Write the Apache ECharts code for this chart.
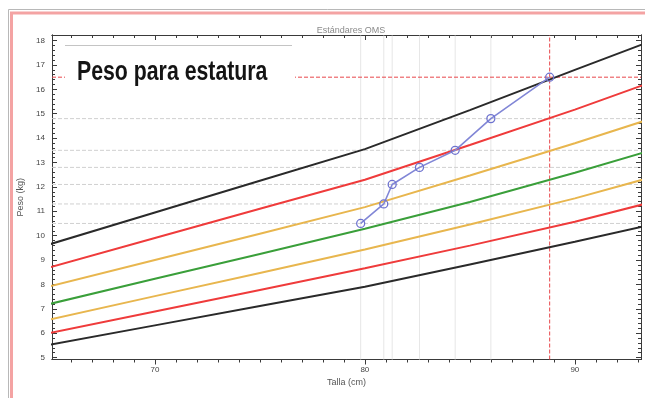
<!DOCTYPE html>
<html>
<head>
<meta charset="utf-8">
<script src="https://cdn.jsdelivr.net/npm/echarts@6/dist/echarts.min.js"></script>
<style>
  html, body { margin: 0; padding: 0; background: #fff; }
  #chart { width: 645px; height: 398px; }
</style>
</head>
<body>
<div id="chart"></div>
<script>
// Curvas de referencia OMS: peso para estatura (niñas), desvíos estándar
const tallaCm = [65, 70, 75, 80, 85, 90, 93.5];
const sdNeg3 = [5.53, 6.32, 7.11, 7.90, 8.82, 9.75, 10.42];
const sdNeg2 = [6.01, 6.89, 7.77, 8.66, 9.59, 10.57, 11.34];
const sdNeg1 = [6.56, 7.52, 8.47, 9.43, 10.46, 11.53, 12.36];
const sdMed  = [7.20, 8.23, 9.25, 10.28, 11.38, 12.58, 13.47];
const sdPos1 = [7.92, 9.00, 10.08, 11.17, 12.47, 13.79, 14.76];
const sdPos2 = [8.70, 9.90, 11.10, 12.29, 13.72, 15.17, 16.25];
const sdPos3 = [9.65, 10.95, 12.25, 13.55, 15.15, 16.80, 17.94];

// Mediciones del paciente
const pacienteTalla = [79.8, 80.9, 81.3, 82.6, 84.3, 86.0, 88.8];
const pacientePeso  = [10.5, 11.3, 12.1, 12.8, 13.5, 14.8, 16.5];

// Marcas de los ejes
const xLabelValues = [70, 80, 90];
const xMinorValues = [66, 67, 68, 69, 71, 72, 73, 74, 75, 76, 77, 78, 79, 81, 82, 83, 84, 85, 86, 87, 88, 89, 91, 92, 93];
const yLabelValues = [5, 6, 7, 8, 9, 10, 11, 12, 13, 14, 15, 16, 17, 18];

const X_MIN = 65.1, X_MAX = 93.15, Y_MIN = 4.92, Y_MAX = 18.23;

const yMinorValues = [];
for (let i = 0; i <= 70; i++) {
  const v = +(4.8 + i * 0.2).toFixed(1);
  if (v > Y_MIN && v < Y_MAX && !yLabelValues.includes(v)) yMinorValues.push(v);
}

const pairs = (xs, ys) => xs.map((x, i) => [x, ys[i]]);

const curveDefs = [
  { name: '-3 DE', data: sdNeg3, color: '#2a2a2a' },
  { name: '-2 DE', data: sdNeg2, color: '#ef3b3b' },
  { name: '-1 DE', data: sdNeg1, color: '#e8b64e' },
  { name: 'Mediana', data: sdMed, color: '#3a9f3a' },
  { name: '+1 DE', data: sdPos1, color: '#e8b64e' },
  { name: '+2 DE', data: sdPos2, color: '#ef3b3b' },
  { name: '+3 DE', data: sdPos3, color: '#2a2a2a' }
];

const axisLineStyle = { lineStyle: { color: '#3a3a3a', width: 1 } };
const labelFont = 'Liberation Sans, Arial, sans-serif';

function xAxisDef(position, ticks, len, showLabel, extra) {
  return Object.assign({
    type: 'value', position, min: X_MIN, max: X_MAX,
    axisLine: Object.assign({ show: true, onZero: false }, axisLineStyle),
    axisTick: { show: true, inside: position === 'top', length: len, customValues: ticks, lineStyle: { color: '#3a3a3a' } },
    axisLabel: showLabel
      ? { show: true, customValues: ticks, color: '#444', fontSize: 8, margin: 6, fontFamily: labelFont }
      : { show: false },
    splitLine: { show: false }
  }, extra || {});
}

function yAxisDef(position, ticks, len, showLabel, extra) {
  return Object.assign({
    type: 'value', position, min: Y_MIN, max: Y_MAX,
    axisLine: Object.assign({ show: true, onZero: false }, axisLineStyle),
    axisTick: { show: true, inside: true, length: len, customValues: ticks, lineStyle: { color: '#3a3a3a' } },
    axisLabel: showLabel
      ? { show: true, customValues: ticks, color: '#444', fontSize: 8, margin: 7, fontFamily: labelFont }
      : { show: false },
    splitLine: { show: false }
  }, extra || {});
}

const lastIdx = pacienteTalla.length - 1;

// Líneas guía de cada control: verticales en la talla, horizontales en el peso.
// Las del control actual van en rojo.
const series = [];
pacienteTalla.forEach((t, i) => {
  const actual = i === lastIdx;
  series.push({
    type: 'line', z: actual ? 2 : 1, silent: true, animation: false, symbol: 'none',
    data: [[t, Y_MIN], [t, Y_MAX]],
    lineStyle: { color: actual ? '#e8474a' : '#cdcdcd', width: 1, type: actual ? 'dashed' : 'dotted' }
  });
});
pacientePeso.forEach((p, i) => {
  const actual = i === lastIdx;
  series.push({
    type: 'line', z: actual ? 2 : 1, silent: true, animation: false, symbol: 'none',
    data: [[X_MIN, p], [X_MAX, p]],
    lineStyle: { color: actual ? '#e8474a' : '#d0d0d0', width: 1, type: 'dashed' }
  });
});

curveDefs.forEach(c => {
  series.push({
    name: c.name, type: 'line', z: 3, color: c.color,
    data: pairs(tallaCm, c.data), symbol: 'none', smooth: false,
    lineStyle: { color: c.color, width: 2 }, animation: false
  });
});

series.push({
  name: 'Paciente', type: 'line', z: 5, color: '#6d72cf',
  data: pairs(pacienteTalla, pacientePeso),
  symbol: 'circle', symbolSize: 8,
  itemStyle: { color: 'rgba(255,255,255,0)', borderColor: '#6d72cf', borderWidth: 1.3 },
  lineStyle: { color: '#8186d6', width: 1.6 }, animation: false
});

const chart = echarts.init(document.getElementById('chart'), null, { renderer: 'canvas' });
chart.setOption({
  backgroundColor: '#ffffff',
  animation: false,
  title: {
    text: 'Estándares OMS', left: 346, top: 21, textAlign: 'center',
    textStyle: { fontSize: 9, fontWeight: 'normal', color: '#8a8a8a', fontFamily: labelFont }
  },
  grid: { left: 52, right: 4, top: 35, bottom: 38.5, containLabel: false },
  xAxis: [
    xAxisDef('bottom', xLabelValues, 5, true, {
      name: 'Talla (cm)', nameLocation: 'middle', nameGap: 19,
      nameTextStyle: { fontSize: 9, color: '#555', fontFamily: labelFont }
    }),
    xAxisDef('bottom', xMinorValues, 3, false),
    xAxisDef('top', xLabelValues, 5, false),
    xAxisDef('top', xMinorValues, 3, false)
  ],
  yAxis: [
    yAxisDef('left', yLabelValues, 5, true, {
      name: 'Peso (kg)', nameLocation: 'middle', nameGap: 18, nameRotate: 90,
      nameTextStyle: { fontSize: 9, color: '#555', fontFamily: labelFont }
    }),
    yAxisDef('left', yMinorValues, 3, false),
    yAxisDef('right', yLabelValues, 5, false),
    yAxisDef('right', yMinorValues, 3, false)
  ],
  graphic: [
    // marco exterior del informe
    { type: 'rect', z: 50, silent: true, shape: { x: 8.5, y: 9.5, width: 700, height: 500 },
      style: { fill: null, stroke: '#b8b8b8', lineWidth: 1 } },
    { type: 'rect', z: 50, silent: true, shape: { x: 11.5, y: 13, width: 700, height: 500 },
      style: { fill: null, stroke: '#f4a3a3', lineWidth: 3 } },
    // recuadro del rótulo
    { type: 'rect', z: 60, silent: true, shape: { x: 65, y: 45, width: 230, height: 50 },
      style: { fill: '#ffffff', stroke: null } },
    { type: 'line', z: 61, silent: true, shape: { x1: 65, y1: 45.5, x2: 292, y2: 45.5 },
      style: { stroke: '#c4c4c4', lineWidth: 1 } },
    { type: 'text', z: 62, silent: true, x: 77, y: 72, scaleX: 0.76, scaleY: 1,
      style: { text: 'Peso para estatura', fill: '#141414', fontSize: 28, fontWeight: 'bold',
        fontFamily: "'Liberation Sans Narrow', 'Arial Narrow', 'Liberation Sans', Arial, sans-serif",
        verticalAlign: 'middle' } }
  ],
  series
});
</script>
</body>
</html>
